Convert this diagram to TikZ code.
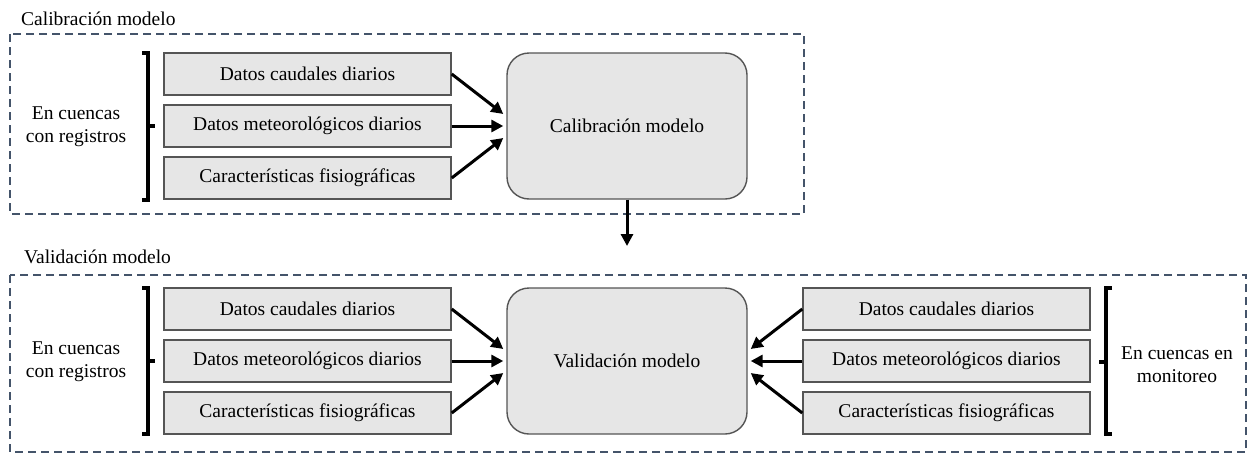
\documentclass[tikz,border=0pt]{standalone}
\usepackage{fontspec}
\setmainfont{Liberation Serif}
\usetikzlibrary{arrows.meta}
\definecolor{boxfill}{HTML}{E6E6E6}
\definecolor{boxline}{HTML}{555555}
\definecolor{dashcol}{HTML}{44546A}
\tikzset{
  databox/.style={draw=boxline, line width=1.4pt, fill=boxfill, minimum width=287pt, minimum height=42pt, inner sep=0pt, font=\fontsize{19.5}{23}\selectfont},
  bigbox/.style={draw=boxline, line width=1.4pt, fill=boxfill, rounded corners=22pt, minimum width=240pt, minimum height=146pt, inner sep=0pt, font=\fontsize{19.5}{23}\selectfont},
  frame/.style={draw=dashcol, line width=1.5pt, dash pattern=on 8pt off 5pt},
  lbl/.style={font=\fontsize{19.5}{23}\selectfont, align=center, inner sep=0pt},
  arr/.style={line width=3pt, -{Triangle[length=12pt,width=12pt]}},
  brk/.style={line width=3.2pt}
}
\begin{document}
\begin{tikzpicture}[x=1pt,y=-1pt]
\useasboundingbox (0,0) rectangle (1248,453);
% frames
\draw[frame] (10,34) rectangle (804,214);
\draw[frame] (10,275) rectangle (1246,452);
\node[lbl, anchor=base west] (h1) at (21,25) {Calibración modelo};
\node[lbl, anchor=base west] (h2) at (24,263) {Validación modelo};
% upper
\node[databox] (a1) at (307.5,74) {Datos caudales diarios};
\node[databox] (a2) at (307.5,126) {Datos meteorológicos diarios};
\node[databox] (a3) at (307.5,178) {Características fisiográficas};
\node[bigbox] (cal) at (627,126) {Calibración modelo};
\draw[arr] (a1.east) -- ([xshift=-3pt,yshift=12pt]cal.west);
\draw[arr] (a2.east) -- ([xshift=-3pt]cal.west);
\draw[arr] (a3.east) -- ([xshift=-3pt,yshift=-12pt]cal.west);
\node[lbl] (t1) at (76,127) {En cuencas\\con registros};
\draw[brk] (142,53) -- (148,53) -- (148,200) -- (142,200);
\draw[brk] (148,126) -- (155,126);
% down arrow
\coordinate (dn) at (627,246);
\draw[arr] (cal.south) -- (dn);
% lower
\node[databox] (b1) at (307.5,309) {Datos caudales diarios};
\node[databox] (b2) at (307.5,361) {Datos meteorológicos diarios};
\node[databox] (b3) at (307.5,413) {Características fisiográficas};
\node[bigbox] (val) at (627,361) {Validación modelo};
\node[databox] (c1) at (946.5,309) {Datos caudales diarios};
\node[databox] (c2) at (946.5,361) {Datos meteorológicos diarios};
\node[databox] (c3) at (946.5,413) {Características fisiográficas};
\draw[arr] (b1.east) -- ([xshift=-3pt,yshift=12pt]val.west);
\draw[arr] (b2.east) -- ([xshift=-3pt]val.west);
\draw[arr] (b3.east) -- ([xshift=-3pt,yshift=-12pt]val.west);
\draw[arr] (c1.west) -- ([xshift=3pt,yshift=12pt]val.east);
\draw[arr] (c2.west) -- ([xshift=3pt]val.east);
\draw[arr] (c3.west) -- ([xshift=3pt,yshift=-12pt]val.east);
\node[lbl] (t2) at (76,362) {En cuencas\\con registros};
\node[lbl] (t3) at (1177,365) {En cuencas en\\monitoreo};
\draw[brk] (142,288) -- (148,288) -- (148,434) -- (142,434);
\draw[brk] (148,361) -- (155,361);
\draw[brk] (1112,288) -- (1106,288) -- (1106,434) -- (1112,434);
\draw[brk] (1106,362) -- (1099,362);
\end{tikzpicture}
\end{document}
